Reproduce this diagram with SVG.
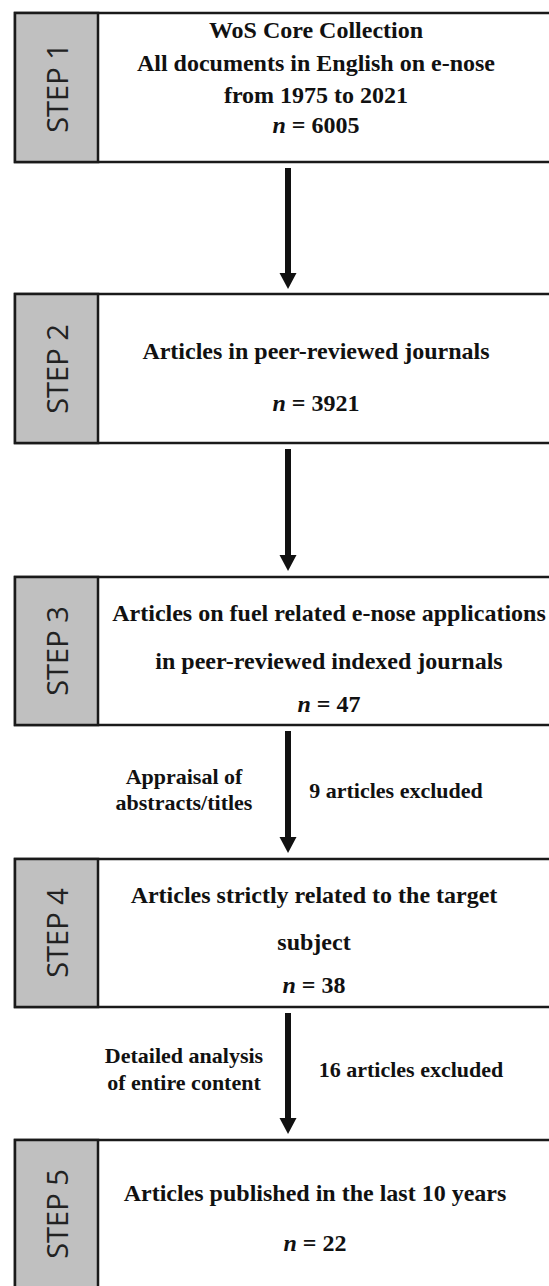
<svg xmlns="http://www.w3.org/2000/svg" width="549" height="1286" viewBox="0 0 549 1286">
<style>
.box{fill:#fff;stroke:#1a1a1a;stroke-width:2.5}
.lab{fill:#c0c0c0;stroke:#1a1a1a;stroke-width:2.5}
.step{font-family:"Open Sans",sans-serif;font-size:29px;fill:#222;text-anchor:middle;dominant-baseline:central}
.t{font-family:"Liberation Serif",serif;font-weight:bold;font-size:24px;fill:#111;text-anchor:middle}
.s{font-family:"Liberation Serif",serif;font-weight:bold;font-size:22px;fill:#111;text-anchor:middle}
.arr{fill:#111}
</style>
<g id="step1">
<rect class="box" x="15" y="13" width="600" height="149"/>
<rect class="lab" x="15" y="13" width="83" height="149"/>
<text class="step" transform="translate(56.5,88) rotate(-90)">STEP 1</text>
<text class="t" x="316" y="38">WoS Core Collection</text>
<text class="t" x="316" y="71">All documents in English on e-nose</text>
<text class="t" x="316" y="103">from 1975 to 2021</text>
<text class="t" x="316" y="133"><tspan font-style="italic">n</tspan> = 6005</text>
</g>
<g id="step2">
<rect class="box" x="15" y="294" width="600" height="149"/>
<rect class="lab" x="15" y="294" width="83" height="149"/>
<text class="step" transform="translate(56.5,369) rotate(-90)">STEP 2</text>
<text class="t" x="316" y="359">Articles in peer-reviewed journals</text>
<text class="t" x="316" y="411"><tspan font-style="italic">n</tspan> = 3921</text>
</g>
<g id="step3">
<rect class="box" x="15" y="577" width="600" height="148"/>
<rect class="lab" x="15" y="577" width="83" height="148"/>
<text class="step" transform="translate(56.5,651) rotate(-90)">STEP 3</text>
<text class="t" x="329" y="621">Articles on fuel related e-nose applications</text>
<text class="t" x="329" y="669">in peer-reviewed indexed journals</text>
<text class="t" x="329" y="712"><tspan font-style="italic">n</tspan> = 47</text>
</g>
<g id="step4">
<rect class="box" x="15" y="859" width="600" height="148"/>
<rect class="lab" x="15" y="859" width="83" height="148"/>
<text class="step" transform="translate(56.5,933) rotate(-90)">STEP 4</text>
<text class="t" x="314" y="903">Articles strictly related to the target</text>
<text class="t" x="314" y="950">subject</text>
<text class="t" x="314" y="993"><tspan font-style="italic">n</tspan> = 38</text>
</g>
<g id="step5">
<rect class="box" x="15" y="1140" width="600" height="170"/>
<rect class="lab" x="15" y="1140" width="83" height="170"/>
<text class="step" transform="translate(56.5,1214) rotate(-90)">STEP 5</text>
<text class="t" x="315" y="1201">Articles published in the last 10 years</text>
<text class="t" x="315" y="1251"><tspan font-style="italic">n</tspan> = 22</text>
</g>
<g id="connectors">
<rect class="arr" x="285" y="168" width="6" height="106"/>
<polygon class="arr" points="279.5,273 296.5,273 288,289"/>
<rect class="arr" x="285" y="449" width="6" height="107"/>
<polygon class="arr" points="279.5,555 296.5,555 288,571"/>
<rect class="arr" x="285" y="731" width="6" height="106"/>
<polygon class="arr" points="279.5,837 296.5,837 288,853"/>
<rect class="arr" x="285" y="1013" width="6" height="106"/>
<polygon class="arr" points="279.5,1118 296.5,1118 288,1134"/>
</g>
<g id="labels">
<text class="s" x="184" y="784">Appraisal of</text>
<text class="s" x="184" y="810">abstracts/titles</text>
<text class="s" x="396" y="798">9 articles excluded</text>
<text class="s" x="184" y="1063">Detailed analysis</text>
<text class="s" x="184" y="1090">of entire content</text>
<text class="s" x="411" y="1077">16 articles excluded</text>
</g>
</svg>
